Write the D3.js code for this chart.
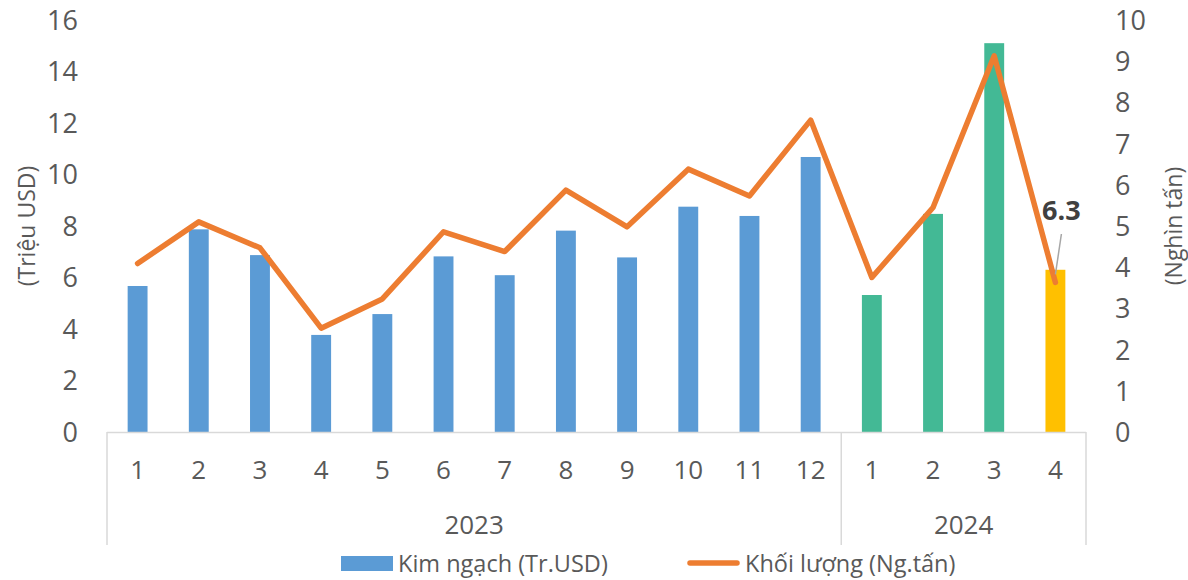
<!DOCTYPE html>
<html>
<head>
<meta charset="utf-8">
<script src="https://cdn.jsdelivr.net/npm/d3@7"></script>
<style>
  html, body { margin: 0; padding: 0; background: #fff; }
  svg { display: block; font-family: "Open Sans", "Noto Sans", sans-serif; }
</style>
</head>
<body>
<svg id="chart" width="1188" height="580"></svg>
<script>
// ---- data ----
const months = ["1","2","3","4","5","6","7","8","9","10","11","12","1","2","3","4"];
const years  = ["2023","2023","2023","2023","2023","2023","2023","2023","2023","2023","2023","2023","2024","2024","2024","2024"];
const kimNgach = [5.67, 7.87, 6.87, 3.77, 4.58, 6.82, 6.09, 7.82, 6.78, 8.75, 8.39, 10.68, 5.32, 8.47, 15.1, 6.3];
const khoiLuong = [4.09, 5.10, 4.47, 2.52, 3.23, 4.86, 4.38, 5.87, 4.98, 6.38, 5.73, 7.57, 3.75, 5.45, 9.13, 3.63];
const leftTicks = [0, 2, 4, 6, 8, 10, 12, 14, 16];
const rightTicks = [0, 1, 2, 3, 4, 5, 6, 7, 8, 9, 10];
const yearGroups = ["2023", "2024"];
const seriesNames = ["Kim ngạch (Tr.USD)", "Khối lượng (Ng.tấn)"];
const leftTitle = "(Triệu USD)";
const rightTitle = "(Nghìn tấn)";
const labelIndex = 15;   // data label shown for last bar

// ---- layout ----
const svg = d3.select("#chart");
const X0 = 107, X1 = 1086, Y0 = 432, Y1 = 20;
const textColor = "#595959";
const lineColor = "#D9D9D9";
const idx = d3.range(months.length);

const x = d3.scaleBand().domain(idx).range([X0, X1]).paddingInner(0.675).paddingOuter(0.3375);
const yL = d3.scaleLinear().domain([0, 16]).range([Y0, Y1]);
const yR = d3.scaleLinear().domain([0, 10]).range([Y0, Y1]);

function barColor(i) {
  if (years[i] === "2023") return "#5B9BD5";
  if (i === labelIndex) return "#FFC000";
  return "#43B995";
}

// left axis
const gl = svg.append("g").attr("transform", `translate(${X0 - 29},0)`)
  .call(d3.axisLeft(yL).tickValues(leftTicks).tickSize(0).tickPadding(0).tickFormat(d3.format("d")));
gl.select(".domain").remove();
gl.selectAll("text").attr("fill", textColor).style("font-size", "27px").style("font-family", "'Open Sans'").attr("dy", "0.35em");

// right axis
const gr = svg.append("g").attr("transform", `translate(${1115},0)`)
  .call(d3.axisRight(yR).tickValues(rightTicks).tickSize(0).tickPadding(0).tickFormat(d3.format("d")));
gr.select(".domain").remove();
gr.selectAll("text").attr("fill", textColor).style("font-size", "27px").style("font-family", "'Open Sans'").attr("dy", "0.35em");

// bars
svg.append("g").selectAll("rect").data(idx).join("rect")
  .attr("x", i => x(i))
  .attr("width", x.bandwidth())
  .attr("y", i => yL(kimNgach[i]))
  .attr("height", i => Y0 - yL(kimNgach[i]))
  .attr("fill", i => barColor(i));

// baseline and group separators
svg.append("line").attr("x1", X0).attr("x2", X1).attr("y1", Y0 + 0.5).attr("y2", Y0 + 0.5)
  .attr("stroke", lineColor).attr("stroke-width", 1.5);
const groupStarts = yearGroups.map(g => years.indexOf(g));
const sepXs = groupStarts.map(i => x(i) - x.step() * x.paddingInner() / 2).concat([X1]);
sepXs[0] = X0;
svg.append("g").selectAll("line").data(sepXs).join("line")
  .attr("x1", d => d).attr("x2", d => d).attr("y1", Y0).attr("y2", 545)
  .attr("stroke", lineColor).attr("stroke-width", 1.5);

// month labels
svg.append("g").selectAll("text").data(idx).join("text")
  .attr("x", i => x(i) + x.bandwidth() / 2)
  .attr("y", 470).attr("dy", "0.35em")
  .attr("text-anchor", "middle").attr("fill", textColor)
  .style("font-size", "26px")
  .text(i => months[i]);

// year labels
svg.append("g").selectAll("text").data(yearGroups).join("text")
  .attr("x", (g, k) => (sepXs[k] + sepXs[k + 1]) / 2)
  .attr("y", 525).attr("dy", "0.35em")
  .attr("text-anchor", "middle").attr("fill", textColor)
  .style("font-size", "26px")
  .text(g => g);

// line
const line = d3.line().x(i => x(i) + x.bandwidth() / 2).y(i => yR(khoiLuong[i]));
svg.append("path").datum(idx).attr("d", line)
  .attr("fill", "none").attr("stroke", "#ED7D31").attr("stroke-width", 5.5)
  .attr("stroke-linejoin", "round").attr("stroke-linecap", "round");

// data label with leader line
const lx = x(labelIndex) + x.bandwidth() / 2;
svg.append("line").attr("x1", lx + 6).attr("y1", 234).attr("x2", lx).attr("y2", yR(khoiLuong[labelIndex]) - 8)
  .attr("stroke", "#A6A6A6").attr("stroke-width", 1.5);
svg.append("text").attr("x", lx + 6).attr("y", 211).attr("dy", "0.35em")
  .attr("text-anchor", "middle").attr("fill", "#404040")
  .style("font-size", "27px").style("font-weight", "bold")
  .text(d3.format(".1f")(kimNgach[labelIndex]));

// axis titles
svg.append("text").attr("transform", `translate(27,${(Y0 + Y1) / 2}) rotate(-90)`)
  .attr("text-anchor", "middle").attr("dy", "0.35em").attr("fill", textColor)
  .style("font-size", "23px").text(leftTitle);
svg.append("text").attr("transform", `translate(1174,${(Y0 + Y1) / 2}) rotate(-90)`)
  .attr("text-anchor", "middle").attr("dy", "0.35em").attr("fill", textColor)
  .style("font-size", "23px").text(rightTitle);

// legend
const lg = svg.append("g");
lg.append("rect").attr("x", 341).attr("y", 556).attr("width", 52).attr("height", 15).attr("fill", "#5B9BD5");
lg.append("text").attr("x", 398).attr("y", 564).attr("dy", "0.35em").attr("fill", textColor)
  .style("font-size", "23.5px").text(seriesNames[0]);
lg.append("line").attr("x1", 690).attr("x2", 737).attr("y1", 563).attr("y2", 563)
  .attr("stroke", "#ED7D31").attr("stroke-width", 5.5).attr("stroke-linecap", "round");
lg.append("text").attr("x", 745).attr("y", 564).attr("dy", "0.35em").attr("fill", textColor)
  .style("font-size", "23.5px").text(seriesNames[1]);
</script>
</body>
</html>
